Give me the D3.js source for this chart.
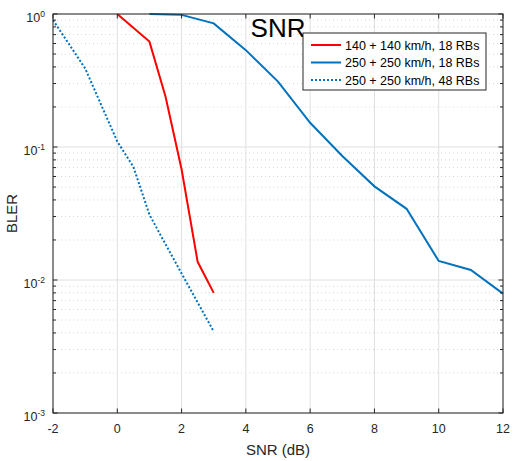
<!DOCTYPE html>
<html>
<head>
<meta charset="utf-8">
<script src="https://cdn.jsdelivr.net/npm/d3@7"></script>
<style>
body { margin: 0; background: #fff; }
text { font-family: Arial, "Liberation Sans", sans-serif; }
</style>
</head>
<body>
<svg id="chart" width="522" height="461"></svg>
<script>
// data
const red140_x = [0, 1, 1.5, 2, 2.5, 3];
const red140_y = [1.0, 0.62, 0.24, 0.068, 0.0137, 0.008];

const blue250_x = [1, 2, 3, 4, 5, 6, 7, 8, 9, 10, 11, 12];
const blue250_y = [1.0, 0.985, 0.85, 0.535, 0.31, 0.152, 0.0855, 0.0506, 0.0343, 0.0139, 0.0119, 0.0079];

const dot250_x = [-2, -1, 0, 0.5, 1, 2, 3];
const dot250_y = [0.9, 0.39, 0.11, 0.071, 0.031, 0.0112, 0.0041];

const xTicks = [-2, 0, 2, 4, 6, 8, 10, 12];
const yDecades = [-3, -2, -1, 0];
const legendLabels = ["140 + 140 km/h, 18 RBs", "250 + 250 km/h, 18 RBs", "250 + 250 km/h, 48 RBs"];

const svg = d3.select("#chart");
const mLeft = 53, mTop = 14, w = 450, h = 399;
const axisCol = "#262626";

const x = d3.scaleLinear().domain([-2, 12]).range([mLeft, mLeft + w]);
const y = d3.scaleLog().domain([1e-3, 1]).range([mTop + h, mTop]);

// minor values for the log axis
const minors = [];
yDecades.slice(0, -1).forEach(e => {
    for (let k = 2; k <= 9; k++) minors.push(k * Math.pow(10, e));
});

const grid = svg.append("g");
// minor grid (dotted)
grid.selectAll(".ymin").data(minors).enter().append("line")
    .attr("x1", mLeft).attr("x2", mLeft + w)
    .attr("y1", d => y(d)).attr("y2", d => y(d))
    .attr("stroke", "#d8d8d8").attr("stroke-width", 1)
    .attr("stroke-dasharray", "1,3");
// major grid
grid.selectAll(".ymaj").data(yDecades).enter().append("line")
    .attr("x1", mLeft).attr("x2", mLeft + w)
    .attr("y1", d => y(Math.pow(10, d))).attr("y2", d => y(Math.pow(10, d)))
    .attr("stroke", "#e0e0e0").attr("stroke-width", 1);
grid.selectAll(".xmaj").data(xTicks).enter().append("line")
    .attr("x1", d => x(d)).attr("x2", d => x(d))
    .attr("y1", mTop).attr("y2", mTop + h)
    .attr("stroke", "#e0e0e0").attr("stroke-width", 1);

// series
const line = d3.line().x(d => x(d[0])).y(d => y(d[1]));
const series = [
    {xs: red140_x, ys: red140_y, color: "#FF0000", dash: null},
    {xs: blue250_x, ys: blue250_y, color: "#0072BD", dash: null},
    {xs: dot250_x, ys: dot250_y, color: "#0072BD", dash: "2,2"}
];
series.forEach(s => {
    svg.append("path")
        .datum(s.xs.map((v, i) => [v, s.ys[i]]))
        .attr("d", line)
        .attr("fill", "none")
        .attr("stroke", s.color)
        .attr("stroke-width", 2)
        .attr("stroke-dasharray", s.dash);
});

// axes box
const ax = svg.append("g");
ax.append("rect")
    .attr("x", mLeft).attr("y", mTop).attr("width", w).attr("height", h)
    .attr("fill", "none").attr("stroke", axisCol).attr("stroke-width", 1);

// x ticks (inside, top and bottom)
xTicks.forEach(t => {
    ax.append("line").attr("x1", x(t)).attr("x2", x(t)).attr("y1", mTop + h).attr("y2", mTop + h - 4.5)
        .attr("stroke", axisCol);
    ax.append("line").attr("x1", x(t)).attr("x2", x(t)).attr("y1", mTop).attr("y2", mTop + 4.5)
        .attr("stroke", axisCol);
    ax.append("text").attr("x", x(t)).attr("y", mTop + h + 20)
        .attr("text-anchor", "middle").attr("font-size", 12.5).attr("fill", axisCol)
        .text(t);
});

// y ticks, labels like 10^-1
yDecades.forEach(e => {
    const yy = y(Math.pow(10, e));
    ax.append("line").attr("x1", mLeft).attr("x2", mLeft + 4.5).attr("y1", yy).attr("y2", yy).attr("stroke", axisCol);
    ax.append("line").attr("x1", mLeft + w).attr("x2", mLeft + w - 4.5).attr("y1", yy).attr("y2", yy).attr("stroke", axisCol);
    const lab = ax.append("text").attr("x", mLeft - 8).attr("y", yy + 7.7)
        .attr("text-anchor", "end").attr("font-size", 12.5).attr("fill", axisCol);
    lab.append("tspan").text("10");
    lab.append("tspan").attr("dy", -5).attr("font-size", 8.5).text(e);
});
minors.forEach(v => {
    const yy = y(v);
    ax.append("line").attr("x1", mLeft).attr("x2", mLeft + 3).attr("y1", yy).attr("y2", yy).attr("stroke", axisCol);
    ax.append("line").attr("x1", mLeft + w).attr("x2", mLeft + w - 3).attr("y1", yy).attr("y2", yy).attr("stroke", axisCol);
});

// axis labels
svg.append("text").attr("x", mLeft + w / 2).attr("y", 455)
    .attr("text-anchor", "middle").attr("font-size", 15).attr("fill", axisCol)
    .text("SNR (dB)");
svg.append("text").attr("transform", "translate(17," + (mTop + h / 2) + ") rotate(-90)")
    .attr("text-anchor", "middle").attr("font-size", 15).attr("fill", axisCol)
    .text("BLER");

// title
svg.append("text").attr("x", mLeft + w / 2).attr("y", 36.5)
    .attr("text-anchor", "middle").attr("font-size", 26).attr("fill", "#000")
    .text("SNR");

// legend
const lg = svg.append("g").attr("transform", "translate(303,33)");
lg.append("rect").attr("width", 183).attr("height", 57)
    .attr("fill", "#fff").attr("stroke", axisCol).attr("stroke-width", 1);
legendLabels.forEach((lbl, i) => {
    const s = series[i];
    const yy = 12 + i * 17.5;
    lg.append("line").attr("x1", 8).attr("x2", 38).attr("y1", yy).attr("y2", yy)
        .attr("stroke", s.color).attr("stroke-width", 2).attr("stroke-dasharray", s.dash);
    lg.append("text").attr("x", 42).attr("y", yy + 4.5)
        .attr("font-size", 12.5).attr("fill", "#000")
        .text(lbl);
});
</script>
</body>
</html>
